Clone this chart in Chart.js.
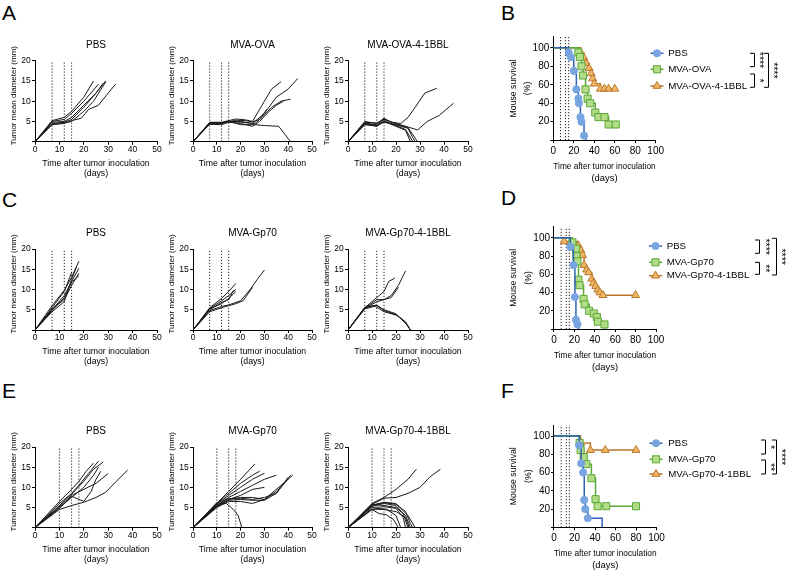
<!DOCTYPE html>
<html>
<head>
<meta charset="utf-8">
<script src="https://cdn.jsdelivr.net/npm/chart.js@4.4.0/dist/chart.umd.min.js"></script>
<style>
body { margin: 0; background: #fff; width: 787px; height: 570px; position: relative; overflow: hidden;
       font-family: "Liberation Sans", Arial, Helvetica, sans-serif; }
canvas { position: absolute; }
.letter { position: absolute; font-size: 21px; line-height: 21px; color: #000; }
.ptitle { position: absolute; font-size: 10px; line-height: 12px; white-space: nowrap; transform: translateX(-50%); color: #000; }
</style>
</head>
<body>
<script>
// ---------- data ----------
const panelLetters = ['A', 'B', 'C', 'D', 'E', 'F'];
const titlesA = ['PBS', 'MVA-OVA', 'MVA-OVA-4-1BBL'];
const titlesCE = ['PBS', 'MVA-Gp70', 'MVA-Gp70-4-1BBL'];
const doseDaysAC = [7, 12, 15];
const doseDaysE = [10, 15, 18];
const doseDaysSurv = [7, 12, 15];

// tumor growth curves, [day, diameter]
const curvesA_pbs = [
  [[0,0],[7,5.2],[12,6],[15,7.5],[20,11],[24,15]],
  [[0,0],[7,5],[12,5.5],[15,7],[20,10],[26,14.2]],
  [[0,0],[7,4.8],[12,5],[15,6],[20,9],[25,12],[29,15]],
  [[0,0],[7,4.5],[12,4.8],[15,5.5],[20,8.5],[25,12],[28,14.5]],
  [[0,0],[7,4.3],[12,4.7],[15,5],[20,7.5],[24,10],[29,14.8]],
  [[0,0],[7,4.2],[12,4.5],[15,5.2],[19,5.8],[22,8],[26,9],[30,12],[33,14.2]]
];
const curvesA_ova = [
  [[0,0],[7,4.8],[12,4.8],[15,5.2],[18,5.6],[22,5.4],[25,5],[28,8],[30,10],[33,13],[37,14.8]],
  [[0,0],[7,4.5],[12,4.6],[15,5],[20,5],[25,4.5],[30,7],[35,11],[40,13],[44,15.6]],
  [[0,0],[7,4.7],[12,4.5],[15,5],[20,4.8],[26,4.5],[29,6],[33,8.5],[37,10],[41,10.5]],
  [[0,0],[7,4.3],[12,4.2],[15,4.8],[20,4.5],[25,3.8],[28,5],[32,7.5],[35,9],[38,10]],
  [[0,0],[7,4.6],[12,4.4],[15,5.1],[20,4.2],[26,4.2],[30,4],[36,3.8],[41,0]],
  [[0,0],[7,4.4],[12,4.7],[15,4.9],[18,5.3],[22,5.2],[25,4.9],[28,5.5],[31,8]]
];
const curvesA_ovaBBL = [
  [[0,0],[7,5],[12,4.5],[15,5.8],[18,4.8],[22,4.5],[25,6],[28,8.5],[32,12],[37,13.2]],
  [[0,0],[7,4.8],[12,4.6],[15,5.5],[20,4.5],[24,3.8],[29,2.9],[33,5],[38,6.5],[44,9.5]],
  [[0,0],[7,4.5],[12,4],[15,5.2],[20,4],[24,3],[27,0]],
  [[0,0],[7,4.3],[12,3.8],[15,5],[20,3.8],[24,2.8],[26,0]],
  [[0,0],[7,4.6],[12,4.2],[15,5.6],[20,4.3],[25,3.5],[29,0]],
  [[0,0],[7,4.2],[12,3.9],[15,4.8],[20,4.2],[25,3.3],[27,1],[28,0]]
];
const curvesC_pbs = [
  [[0,0],[7,6],[12,9.8],[15,13],[18,17]],
  [[0,0],[7,5.5],[12,9.5],[15,14.2]],
  [[0,0],[7,5],[12,8.5],[15,12],[18,15.2]],
  [[0,0],[7,4.8],[12,8],[15,11.8],[18,13.4]],
  [[0,0],[7,5.2],[12,7.5],[15,11],[18,14]],
  [[0,0],[7,4.5],[12,7],[15,12.5],[17,15.5]]
];
const curvesC_gp = [
  [[0,0],[7,5.5],[12,7.8],[15,9.5],[18,11.5]],
  [[0,0],[7,5.3],[12,7.2],[15,8.5],[18,10]],
  [[0,0],[7,5],[12,6.8],[15,7.5],[17,9.8]],
  [[0,0],[7,4.8],[12,5.8],[15,6.2],[20,7.2],[24,10],[27,12.5],[30,14.8]],
  [[0,0],[7,4.5],[12,5.5],[15,6],[18,6.5],[21,7.2],[25,10.5]],
  [[0,0],[7,5.2],[12,6.5],[15,7.8],[18,9.5]]
];
const curvesC_gpBBL = [
  [[0,0],[7,5.5],[12,8],[15,9.5],[17,12],[19.5,12.8]],
  [[0,0],[7,5.4],[12,7.5],[15,7.5],[18,8.5],[21,11],[24,14.6]],
  [[0,0],[7,5.3],[12,7],[15,7.5],[18,8],[21,10.5]],
  [[0,0],[7,5.5],[12,6.2],[15,4.8],[20,3.8],[23,2.5],[26,0]],
  [[0,0],[7,5.6],[11,6],[15,4.5],[20,3.7],[24,2],[26,0]],
  [[0,0],[7,5.2],[12,6],[15,5],[20,4],[25,1],[26,0]]
];
const curvesE_pbs = [
  [[0,0],[10,6.5],[15,9.5],[18,11.5],[21,14],[24,16]],
  [[0,0],[10,6],[15,8.5],[18,10.5],[22,13.5],[26,16.5]],
  [[0,0],[10,5.5],[15,8.3],[20,11.5],[24,14.5],[28,16.3]],
  [[0,0],[10,5.2],[15,8],[20,9.5],[25,11],[30,13.4]],
  [[0,0],[10,4.8],[15,7.8],[18,7],[20,6.5],[23,9],[25,12],[27,14]],
  [[0,0],[10,4.5],[15,5.5],[20,6.3],[25,7.5],[29,8.8],[33,11.3],[38,14.3]],
  [[0,0],[10,5],[15,7.5],[20,10],[24,13],[26,15]]
];
const curvesE_gp = [
  [[0,0],[10,6],[15,9],[20,12],[26,15.8]],
  [[0,0],[10,6],[15,8.5],[20,11],[25,13],[28,14]],
  [[0,0],[10,5.8],[15,8],[20,10],[25,12],[30,13.5]],
  [[0,0],[10,5.5],[15,7.5],[20,9],[25,10.5],[30,12],[35,13]],
  [[0,0],[10,5.5],[15,7],[20,8],[25,9.5],[30,10]],
  [[0,0],[10,5.3],[15,7],[20,7.5],[25,7.5],[30,7],[35,9],[40,12],[42,13.1]],
  [[0,0],[10,5.2],[15,6.8],[20,7],[25,6.8],[30,6.8],[35,8.5],[40,12.5]],
  [[0,0],[10,5],[15,6.5],[20,6.5],[25,6],[30,7],[34,9],[38,11]],
  [[0,0],[10,5.8],[14,6],[17,4.5],[19,3],[20.5,0]],
  [[0,0],[10,6.2],[15,7.2],[20,7.3],[25,7],[30,7.5],[35,8.5],[41,13]]
];
const curvesE_gpBBL = [
  [[0,0],[10,6],[15,7.5],[20,9.5],[25,12],[28.5,14.5]],
  [[0,0],[10,5.8],[15,7.3],[20,7.5],[25,8.5],[30,10],[34,12.5],[38.5,14.5]],
  [[0,0],[10,5.5],[15,6.2],[20,5.8],[24,4],[26,1],[27,0]],
  [[0,0],[10,5.3],[15,6],[20,5.5],[23,3.5],[25,0]],
  [[0,0],[10,5.8],[15,5.5],[20,5],[24,3],[26,0]],
  [[0,0],[10,5],[15,5.2],[20,4.8],[23,2.5],[24,0]],
  [[0,0],[10,4.6],[15,4.5],[20,4],[24,2.5],[25.5,0]],
  [[0,0],[10,4.5],[13,3.5],[16,3.2],[19,2],[21,0]],
  [[0,0],[10,5.6],[15,6.3],[20,6],[25,3],[28,0]],
  [[0,0],[9,4.2],[12,4.8],[16,4.6],[20,3],[22,0]]
];

// survival, [day, % alive]
const groupsB = ['PBS', 'MVA-OVA', 'MVA-OVA-4-1BBL'];
const groupsDF = ['PBS', 'MVA-Gp70', 'MVA-Gp70-4-1BBL'];
const survB_pbs = [[0,100],[15,95],[17,90],[20,75],[22.5,55],[24.5,45],[25,40],[26.5,25],[27.5,20],[30,5],[32,0]];
const survB_ova = [[0,100],[24.5,95],[26,90],[27.5,80],[29,70],[31.5,55],[33.5,45],[36,40],[41,30],[44,25],[50,25],[54,17],[61,17]];
const survB_ovaBBL = [[0,100],[27,94.4],[30,88.9],[32,83.3],[35,77.8],[37,72.2],[38.5,66.7],[40,61.1],[46,55.6],[50,55.6],[54,55.6],[60,55.6]];
const survD_pbs = [[0,100],[16,90],[19,70],[20.5,35],[21.5,10],[23,5],[24,0]];
const survD_gp = [[0,100],[18,95],[21.5,88],[22,80],[23,74],[24,54],[25,48],[29,33],[30,27],[34.5,20],[39,17],[42,13],[43,8],[49.5,5],[50,0]];
const survD_gpBBL = [[0,100],[10,96],[24,91],[26.5,86],[28,81],[29.5,70],[32,65],[34,62],[37,55],[38.5,50],[41,47],[43,43],[45,40],[48,37],[80,37]];
const survF_pbs = [[0,100],[24.5,90],[26.5,70],[28.5,60],[29.5,30],[30.5,20],[33,10],[47,0]];
const survF_gp = [[0,100],[25,92.3],[26,84.6],[29,76.9],[31.5,69.2],[36.5,53.8],[40.5,30.8],[42.5,23.1],[51,23.1],[80,23.1]];
const survF_gpBBL = [[0,100],[26,92.3],[35.5,84.6],[50,84.6],[80,84.6]];
const sigB = ['****', '*', '****'];
const sigD = ['****', '**', '****'];
const sigF = ['*', '**', '****'];

// ---------- drawing ----------
const FONT = '"Liberation Sans", Arial, Helvetica, sans-serif';
Chart.defaults.font.family = FONT;
Chart.defaults.color = '#000';

const styles = [
  {line: '#2f63b5', fill: '#78a5e0', border: '#78a5e0', shape: 'circle', r: 3.6},
  {line: '#5aa837', fill: '#b3dc88', border: '#5aa837', shape: 'rect', r: 5},
  {line: '#b8772a', fill: '#f2b766', border: '#b8772a', shape: 'triangle', r: 4.6}
];

function makeCanvas(left, top, w, h) {
  const c = document.createElement('canvas');
  c.width = w; c.height = h;
  c.style.left = left + 'px'; c.style.top = top + 'px';
  c.style.width = w + 'px'; c.style.height = h + 'px';
  document.body.appendChild(c);
  return c;
}

function addText(cls, text, left, top) {
  const d = document.createElement('div');
  d.className = cls; d.textContent = text;
  d.style.left = left + 'px'; d.style.top = top + 'px';
  document.body.appendChild(d);
}

function axis(min, max, step, tickSize, tickPad) {
  return {
    type: 'linear', min: min, max: max,
    ticks: {stepSize: step, font: {size: tickSize}, color: '#000', padding: tickPad,
            autoSkip: false, maxRotation: 0, includeBounds: false},
    grid: {drawOnChartArea: false, drawTicks: true, tickLength: 3, color: '#000', lineWidth: 1},
    border: {display: true, color: '#000', width: 1}
  };
}

function doseSets(days, top) {
  return days.map(d => ({
    data: [{x: d, y: 0}, {x: d, y: top}],
    borderColor: '#222', borderWidth: 1, borderDash: [1.2, 1.8], pointRadius: 0
  }));
}

function tumorChart(L, R, T, B, curves, doses, title) {
  const yW = 26, xH = 36.5;
  const cl = Math.floor(L - yW), ct = Math.floor(T - 22);
  const w = Math.ceil(R + 12 - cl), h = Math.ceil(B + xH + 3 - ct);
  const canvas = makeCanvas(cl, ct, w, h);
  const datasets = curves.map(c => ({
    data: c.map(p => ({x: p[0], y: p[1]})),
    borderColor: '#1a1a1a', borderWidth: 1, pointRadius: 0, tension: 0
  })).concat(doseSets(doses, 20));
  const x = axis(0, 50, 10, 8.5, 0);
  x.title = {display: true, text: ['Time after tumor inoculation', '(days)'], font: {size: 8.7, lineHeight: 1.15}, padding: 0, color: '#000'};
  x.afterFit = s => { s.height = xH; };
  const y = axis(0, 20, 5, 8.5, 1.2);
  y.ticks.callback = v => v === 0 ? '' : v;
  // leading no-break spaces lift the rotated title a little, as in the original
  y.title = {display: true, text: '\u00a0\u00a0\u00a0\u00a0\u00a0Tumor mean diameter (mm)', font: {size: 8, lineHeight: 1.2}, padding: 0, color: '#000'};
  y.afterFit = s => { s.width = yW; };
  new Chart(canvas, {
    type: 'line',
    data: {datasets: datasets},
    options: {
      responsive: false, animation: false, devicePixelRatio: 1,
      layout: {padding: {left: L - yW - cl, top: T - ct, right: w - (R - cl), bottom: h - xH - (B - ct)}},
      plugins: {legend: {display: false}, tooltip: {enabled: false}},
      scales: {x: x, y: y}
    }
  });
  addText('ptitle', title, (L + R) / 2, T - 22);
}

function drawMarker(ctx, st, x, y) {
  ctx.beginPath();
  const r = st.r;
  if (st.shape === 'circle') {
    ctx.arc(x, y, r, 0, Math.PI * 2);
  } else if (st.shape === 'rect') {
    const s = r * Math.SQRT1_2;
    ctx.rect(x - s, y - s, 2 * s, 2 * s);
  } else {
    for (let k = 0; k < 3; k++) {
      const a = k * 2 * Math.PI / 3;
      const px = x + Math.sin(a) * r, py = y - Math.cos(a) * r;
      if (k === 0) ctx.moveTo(px, py); else ctx.lineTo(px, py);
    }
    ctx.closePath();
  }
  ctx.fillStyle = st.fill; ctx.fill();
  ctx.strokeStyle = st.border; ctx.lineWidth = 1; ctx.stroke();
}

function makeDecor(cfg, cl, ct) {
  return {
    id: 'survDecor',
    afterDraw(chart) {
      const ctx = chart.ctx;
      ctx.save();
      chart.data.datasets.forEach((ds, i) => {
        if (!ds.label) return;
        const st = styles[i];
        const x = cfg.markerX - cl, y = cfg.legendY[i] - ct;
        ctx.strokeStyle = st.line; ctx.lineWidth = 1.5;
        ctx.beginPath(); ctx.moveTo(x - 6.5, y); ctx.lineTo(x + 6.5, y); ctx.stroke();
        drawMarker(ctx, st, x, y);
        ctx.fillStyle = '#000';
        ctx.font = '9.7px ' + FONT;
        ctx.textBaseline = 'middle'; ctx.textAlign = 'left';
        ctx.fillText(ds.label, cfg.textX - cl, y);
      });
      cfg.brackets.forEach((b, k) => {
        const bx = b.x - cl, y1 = b.y1 - ct, y2 = b.y2 - ct;
        ctx.strokeStyle = '#000'; ctx.lineWidth = 1;
        ctx.beginPath();
        ctx.moveTo(bx - 4.5, y1); ctx.lineTo(bx, y1); ctx.lineTo(bx, y2); ctx.lineTo(bx - 4.5, y2);
        ctx.stroke();
        const fs = 10.5;
        ctx.save();
        ctx.translate(b.tx - cl, (y1 + y2) / 2);
        ctx.rotate(Math.PI / 2);
        ctx.font = fs + 'px ' + FONT;
        ctx.textAlign = 'center'; ctx.textBaseline = 'alphabetic';
        ctx.fillStyle = '#000';
        ctx.fillText(cfg.sig[k], 0, 0.57 * fs);
        ctx.restore();
      });
      ctx.restore();
    }
  };
}

function survChart(L, R, T, B, series, labels, doses, cfg) {
  const yW = 47.3, xH = 43.8;
  const cl = Math.floor(L - yW), ct = Math.floor(T - 8);
  const w = 787 - cl, h = Math.ceil(B + xH + 3 - ct);
  const canvas = makeCanvas(cl, ct, w, h);
  const datasets = series.map((s, i) => ({
    label: labels[i],
    data: s.map(p => ({x: p[0], y: p[1]})),
    stepped: true,
    borderColor: styles[i].line, borderWidth: 1.5,
    pointStyle: styles[i].shape,
    pointRadius: c => (c.dataIndex === 0 || c.raw.y === 0) ? 0 : styles[i].r,
    pointBackgroundColor: styles[i].fill,
    pointBorderColor: styles[i].border,
    pointBorderWidth: 1
  })).concat(doseSets(doses, 112));
  const x = axis(0, 100, 20, 10, 2);
  x.title = {display: true, text: ['Time after tumor inoculation', '(days)'], font: {size: 9.4, lineHeight: 1.223}, padding: 0, color: '#000'};
  x.afterFit = s => { s.height = xH; };
  const y = axis(0, 112, 20, 10, 1);
  y.ticks.callback = v => v === 0 ? '' : v;
  y.title = {display: true, text: ['Mouse survival', '(%)'], font: {size: 8.7, lineHeight: 1.68}, padding: 0, color: '#000'};
  y.afterFit = s => { s.width = yW; };
  new Chart(canvas, {
    type: 'line',
    data: {datasets: datasets},
    options: {
      responsive: false, animation: false, devicePixelRatio: 1,
      layout: {padding: {left: L - yW - cl, top: T - ct, right: w - (R - cl), bottom: h - xH - (B - ct)}},
      plugins: {legend: {display: false}, tooltip: {enabled: false}},
      scales: {x: x, y: y}
    },
    plugins: [makeDecor(cfg, cl, ct)]
  });
}

// panel letters
const letterPos = [[2, 2], [501, 2], [2, 189], [501, 187], [2, 380], [501, 380]];
panelLetters.forEach((t, i) => addText('letter', t, letterPos[i][0], letterPos[i][1]));

// tumor growth panels
const cols = [[35, 157], [193, 312], [348, 468]];
const rowA = [60.7, 141.7], rowC = [249, 330], rowE = [447, 527.7];
[curvesA_pbs, curvesA_ova, curvesA_ovaBBL].forEach((c, i) =>
  tumorChart(cols[i][0], cols[i][1], rowA[0], rowA[1], c, doseDaysAC, titlesA[i]));
[curvesC_pbs, curvesC_gp, curvesC_gpBBL].forEach((c, i) =>
  tumorChart(cols[i][0], cols[i][1], rowC[0], rowC[1], c, doseDaysAC, titlesCE[i]));
[curvesE_pbs, curvesE_gp, curvesE_gpBBL].forEach((c, i) =>
  tumorChart(cols[i][0], cols[i][1], rowE[0], rowE[1], c, doseDaysE, titlesCE[i]));

// survival panels
survChart(553.3, 655.7, 36.7, 140.2, [survB_pbs, survB_ova, survB_ovaBBL], groupsB, doseDaysSurv, {
  markerX: 657, textX: 668.3, legendY: [53.3, 69.3, 86], sig: sigB,
  brackets: [{x: 754.5, y1: 53.3, y2: 66.7, tx: 761.7}, {x: 754.5, y1: 74, y2: 87.3, tx: 761.7}, {x: 768.5, y1: 53.3, y2: 87.3, tx: 776}]
});
survChart(554, 656, 226.8, 329, [survD_pbs, survD_gp, survD_gpBBL], groupsDF, doseDaysSurv, {
  markerX: 655.5, textX: 666.7, legendY: [246, 262.3, 275.7], sig: sigD,
  brackets: [{x: 759.5, y1: 240, y2: 253.3, tx: 767.7}, {x: 759.5, y1: 262.3, y2: 274.3, tx: 767.7}, {x: 776.5, y1: 238.3, y2: 275, tx: 784}]
});
survChart(554, 656.5, 425.1, 527.3, [survF_pbs, survF_gp, survF_gpBBL], groupsDF, doseDaysSurv, {
  markerX: 656, textX: 668.3, legendY: [443.3, 459.3, 474], sig: sigF,
  brackets: [{x: 765.5, y1: 440, y2: 454, tx: 772.5}, {x: 765.5, y1: 460, y2: 474, tx: 772.5}, {x: 776.5, y1: 440, y2: 474, tx: 783.5}]
});
</script>
</body>
</html>
